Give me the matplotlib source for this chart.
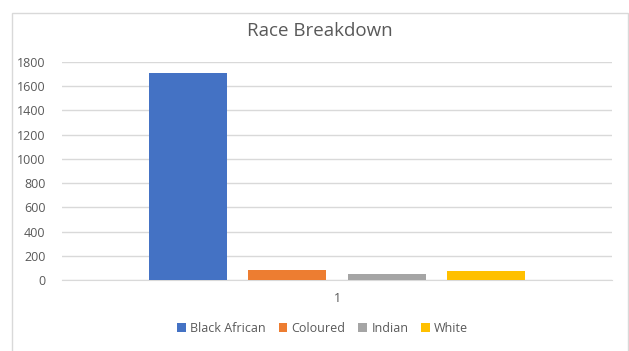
import numpy as np
from matplotlib import pyplot as plt
from matplotlib.patches import Rectangle

# data
races = ["Black African", "Coloured", "Indian", "White"]
counts = [1705, 85, 50, 75]
colors = ["#4472C4", "#ED7D31", "#A5A5A5", "#FFC000"]
yticks = [0, 200, 400, 600, 800, 1000, 1200, 1400, 1600, 1800]

plt.rcParams['font.family'] = ['Open Sans', 'DejaVu Sans']

fig = plt.figure(figsize=(6.29, 3.51), dpi=100)
ax = fig.add_axes([0.0986, 0.2023, 0.8744, 0.6211])

# chart area border (runs off the bottom/right of the picture)
fig.patches.append(Rectangle((0.019, -0.05), 0.979, 1.013, transform=fig.transFigure,
                             fill=False, edgecolor="#d9d9d9", linewidth=1))

width = 0.1418
step = 0.181
offsets = (np.arange(len(races)) - 1.5) * step
for off, c, col, name in zip(offsets, counts, colors, races):
    ax.bar(off, c, width=width, color=col, label=name, zorder=3)

ax.set_xlim(-0.5, 0.5)
ax.set_ylim(0, 1800)
ax.set_yticks(yticks)
ax.set_xticks([0])
ax.set_xticklabels(["1"])
ax.grid(axis="y", color="#d9d9d9", linewidth=1, zorder=0)
for s in ax.spines.values():
    s.set_visible(False)
ax.spines["bottom"].set_visible(True)
ax.spines["bottom"].set_color("#d9d9d9")
ax.tick_params(length=0, colors="#595959", labelsize=9)
ax.tick_params(axis="x", pad=9)
ax.tick_params(axis="y", pad=12)

fig.text(0.509, 0.913, "Race Breakdown", ha="center", va="center", fontsize=13.5, color="#595959")

fig.legend(loc="center", bbox_to_anchor=(0.513, 0.065), ncol=4, frameon=False,
           fontsize=9, handlelength=0.7, handleheight=0.7, handletextpad=0.35,
           columnspacing=1.0, labelcolor="#595959")

fig.savefig("out.png", dpi=100)
